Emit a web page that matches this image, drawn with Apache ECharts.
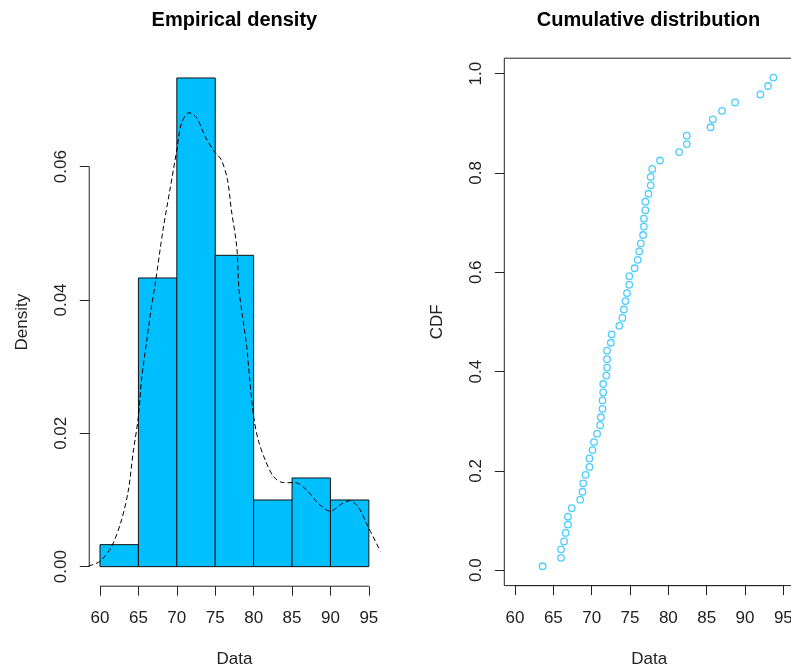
<!DOCTYPE html>
<html>
<head>
<meta charset="utf-8">
<script src="https://cdn.jsdelivr.net/npm/echarts@6/dist/echarts.min.js"></script>
<style>
html,body{margin:0;padding:0;background:#fff;}
#chart{width:791px;height:669px;}
</style>
</head>
<body>
<div id="chart"></div>
<script>
// ---- data ----
const breaks = [60, 65, 70, 75, 80, 85, 90, 95];
const histDensity = [0.0033, 0.0433, 0.0733, 0.0467, 0.0100, 0.0133, 0.0100];

const densX = [58.5, 60.0, 61.5, 62.8, 63.7, 64.3, 65.0, 65.4, 66.1, 66.7, 67.2, 68.2, 69.1, 70.0, 70.6, 71.6, 72.6, 73.7, 74.8, 75.8, 76.6, 77.1, 77.8, 78.1, 78.5, 79.1, 79.5, 80.0, 80.6, 81.5, 82.6, 83.9, 85.4, 86.9, 88.4, 90.0, 91.3, 92.5, 93.6, 94.9, 96.5];
const densY = [0.0001, 0.0008, 0.0030, 0.0070, 0.0115, 0.0170, 0.0225, 0.0280, 0.0340, 0.0390, 0.0425, 0.0505, 0.0565, 0.0625, 0.0665, 0.0681, 0.0673, 0.0645, 0.0624, 0.0610, 0.0580, 0.0535, 0.0480, 0.0415, 0.0380, 0.0330, 0.0280, 0.0225, 0.0190, 0.0160, 0.0135, 0.0126, 0.0126, 0.0115, 0.0095, 0.0083, 0.0093, 0.0099, 0.0090, 0.0060, 0.0023];

const cdfX = [63.6, 66.0, 66.0, 66.4, 66.6, 66.9, 66.9, 67.4, 68.5, 68.8, 68.9, 69.2, 69.7, 69.7, 70.1, 70.3, 70.7, 71.1, 71.2, 71.4, 71.4, 71.5, 71.5, 71.9, 72.0, 72.0, 72.0, 72.5, 72.6, 73.6, 74.0, 74.2, 74.4, 74.6, 74.9, 74.9, 75.6, 76.0, 76.2, 76.4, 76.7, 76.8, 76.8, 77.0, 77.0, 77.4, 77.7, 77.7, 77.9, 78.9, 81.4, 82.4, 82.4, 85.5, 85.8, 87.0, 88.7, 92.0, 93.0, 93.7];
const cdfY = [0.008, 0.025, 0.042, 0.058, 0.075, 0.092, 0.108, 0.125, 0.142, 0.158, 0.175, 0.192, 0.208, 0.225, 0.242, 0.258, 0.275, 0.292, 0.308, 0.325, 0.342, 0.358, 0.375, 0.392, 0.408, 0.425, 0.442, 0.458, 0.475, 0.492, 0.508, 0.525, 0.542, 0.558, 0.575, 0.592, 0.608, 0.625, 0.642, 0.658, 0.675, 0.692, 0.708, 0.725, 0.742, 0.758, 0.775, 0.792, 0.808, 0.825, 0.842, 0.858, 0.875, 0.892, 0.908, 0.925, 0.942, 0.958, 0.975, 0.992];

const xTicks = [60, 65, 70, 75, 80, 85, 90, 95];
const densTicks = [0, 0.02, 0.04, 0.06];
const cdfTicks = [0, 0.2, 0.4, 0.6, 0.8, 1.0];

// ---- axis ranges (R style: 4% extension) ----
const xMin = 58.6, xMax = 96.4;
const dMin = -0.0029333, dMax = 0.0762667;
const cMin = -0.031, cMax = 1.031;

const FONT = '"Liberation Sans", Arial, sans-serif';
const TXT = '#222';
const fill = '#00BFFF';

const histData = histDensity.map((d, i) => [breaks[i], breaks[i + 1], d]);
const densData = densX.map((x, i) => [x, densY[i]]);
const cdfData = cdfX.map((x, i) => [x, cdfY[i]]);

const chart = echarts.init(document.getElementById('chart'), null, {renderer: 'canvas'});

function xAxisCfg(gi) {
  return {
    type: 'value', gridIndex: gi, min: xMin, max: xMax,
    name: 'Data', nameLocation: 'middle', nameGap: 65,
    nameTextStyle: {fontFamily: FONT, fontSize: 17, color: TXT},
    axisLine: {show: false, onZero: false},
    axisTick: {show: true, customValues: xTicks, length: 9.5, lineStyle: {color: '#222', width: 1}},
    axisLabel: {show: true, customValues: xTicks, margin: 24, fontFamily: FONT, fontSize: 17, color: TXT,
      formatter: v => String(Math.round(v))},
    splitLine: {show: false}
  };
}

function yAxisCfg(gi, mn, mx, ticks, name, dec) {
  return {
    type: 'value', gridIndex: gi, min: mn, max: mx,
    name: name, nameLocation: 'middle', nameGap: 58.5, nameRotate: 90,
    nameTextStyle: {fontFamily: FONT, fontSize: 17, color: TXT},
    axisLine: {show: false, onZero: false},
    axisTick: {show: true, customValues: ticks, length: 9.5, lineStyle: {color: '#222', width: 1}},
    axisLabel: {show: true, customValues: ticks, rotate: 90, margin: 19.5, fontFamily: FONT, fontSize: 17, color: TXT,
      formatter: v => v.toFixed(dec)},
    splitLine: {show: false}
  };
}

const option = {
  animation: false,
  backgroundColor: '#fff',
  title: [
    {text: 'Empirical density', left: 234.4, top: 10, textAlign: 'center', padding: 0,
      textStyle: {fontFamily: FONT, fontSize: 20, fontWeight: 'bold', color: '#000'}},
    {text: 'Cumulative distribution', left: 648.5, top: 10, textAlign: 'center', padding: 0,
      textStyle: {fontFamily: FONT, fontSize: 20, fontWeight: 'bold', color: '#000'}}
  ],
  grid: [
    {left: 89.25, top: 58.2, width: 290.35, height: 528, containLabel: false, outerBoundsMode: 'none'},
    {left: 504.3, top: 58.2, width: 289.8, height: 527.4, containLabel: false, outerBoundsMode: 'none',
      show: true, borderColor: '#222', borderWidth: 1, backgroundColor: 'transparent'}
  ],
  xAxis: [xAxisCfg(0), xAxisCfg(1)],
  yAxis: [
    yAxisCfg(0, dMin, dMax, densTicks, 'Density', 2),
    yAxisCfg(1, cMin, cMax, cdfTicks, 'CDF', 1)
  ],
  series: [
    {
      type: 'custom', xAxisIndex: 0, yAxisIndex: 0, data: histData, silent: true,
      renderItem: function (params, api) {
        const p0 = api.coord([api.value(0), 0]);
        const p1 = api.coord([api.value(1), api.value(2)]);
        return {
          type: 'rect',
          shape: {x: p0[0], y: p1[1], width: p1[0] - p0[0], height: p0[1] - p1[1]},
          style: {fill: fill, stroke: '#111', lineWidth: 1}
        };
      }
    },
    {
      type: 'line', xAxisIndex: 0, yAxisIndex: 0, data: densData, showSymbol: false, smooth: 0.3,
      lineStyle: {color: '#000', width: 1, type: [5, 3]}, silent: true, clip: true
    },
    // R-style axis lines spanning first to last tick
    {
      type: 'line', xAxisIndex: 0, yAxisIndex: 0, showSymbol: false, clip: false, silent: true,
      data: [[xTicks[0], dMin], [xTicks[xTicks.length - 1], dMin]],
      lineStyle: {color: '#222', width: 1}
    },
    {
      type: 'line', xAxisIndex: 0, yAxisIndex: 0, showSymbol: false, clip: false, silent: true,
      data: [[xMin, densTicks[0]], [xMin, densTicks[densTicks.length - 1]]],
      lineStyle: {color: '#222', width: 1}
    },
    {
      type: 'line', xAxisIndex: 1, yAxisIndex: 1, showSymbol: false, clip: false, silent: true,
      data: [[xTicks[0], cMin], [xTicks[xTicks.length - 1], cMin]],
      lineStyle: {color: '#222', width: 1}
    },
    {
      type: 'scatter', xAxisIndex: 1, yAxisIndex: 1, data: cdfData, symbol: 'circle', symbolSize: 6.5,
      itemStyle: {color: 'rgba(0,0,0,0)', borderColor: '#1EBFFF', borderWidth: 1.3}, silent: true
    }
  ]
};
chart.setOption(option);
</script>
</body>
</html>
